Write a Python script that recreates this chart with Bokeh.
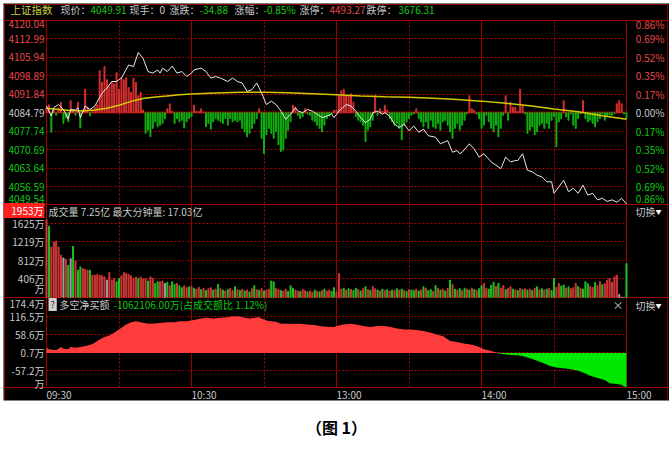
import numpy as np
from bokeh.plotting import figure
from bokeh.models import ColumnDataSource, Range1d, LabelSet, Label, Grid, FixedTicker, Title
from bokeh.embed import file_html
from bokeh.resources import INLINE
from bokeh.core.properties import value

FONT = "Noto Sans CJK SC"

# ------------------------------------------------------------------ data
prev_close = 4084.79
price_ticks = [4120.04, 4112.99, 4105.94, 4098.89, 4091.84, 4084.79,
               4077.74, 4070.69, 4063.64, 4056.59, 4049.54]
pct_labels = ["0.86%", "0.69%", "0.52%", "0.35%", "0.17%", "0.00%",
              "0.17%", "0.35%", "0.52%", "0.69%", "0.86%"]

price_min = [0, 2, 3, 5, 7, 9, 10, 12, 13, 14, 16, 18, 20, 23, 25, 27, 29, 31, 34, 36,
             38, 40, 42, 44, 46, 47, 48, 50, 52, 54, 56, 58, 60, 61, 64, 66, 68, 70, 72, 75,
             77, 79, 81, 83, 85, 87, 89, 91, 93, 95, 97, 99, 101, 103, 104, 106, 108, 110, 112, 114,
             116, 118, 119, 121, 124, 126, 128, 130, 132, 134, 135, 137, 139, 140, 142, 144, 146, 148, 150, 152,
             154, 156, 158, 161, 163, 166, 168, 170, 171, 172, 175, 177, 179, 181, 184, 186, 188, 190, 192, 194,
             195, 197, 199, 201, 203, 205, 207, 209, 210, 212, 214, 216, 218, 220, 222, 224, 226, 228, 230, 232,
             234, 236, 238, 240]
price_val = [4087.3, 4083.5, 4086.7, 4087.9, 4086.0, 4082.3, 4086.0, 4085.8, 4086.7, 4082.9,
             4087.3, 4086.0, 4087.3, 4092.3, 4094.2, 4096.7, 4096.7, 4098.0, 4103.0, 4102.4,
             4107.8, 4105.5, 4100.5, 4099.9, 4101.1, 4099.9, 4101.8, 4100.5, 4102.6, 4099.9,
             4100.5, 4098.6, 4099.9, 4101.1, 4101.8, 4100.5, 4098.0, 4098.6, 4098.0, 4096.7,
             4098.0, 4096.7, 4096.1, 4092.9, 4093.6, 4096.1, 4092.3, 4087.9, 4089.2, 4087.9,
             4085.4, 4082.3, 4084.2, 4086.7, 4085.4, 4084.8, 4086.0, 4085.4, 4084.2, 4082.9,
             4083.5, 4084.2, 4082.9, 4085.4, 4087.9, 4087.3, 4085.4, 4082.9, 4081.0, 4082.3,
             4084.8, 4085.4, 4084.2, 4084.8, 4083.5, 4080.4, 4079.1, 4080.4, 4077.9, 4079.7,
             4077.3, 4078.5, 4076.0, 4075.4, 4072.9, 4074.1, 4069.7, 4070.3, 4069.1, 4069.7,
             4072.9, 4070.9, 4067.8, 4069.1, 4066.0, 4064.7, 4063.4, 4067.8, 4066.0, 4066.5,
             4066.5, 4069.1, 4062.8, 4062.2, 4060.9, 4060.3, 4058.4, 4058.4, 4054.0, 4056.5,
             4059.0, 4054.6, 4055.9, 4054.0, 4057.1, 4053.3, 4054.0, 4051.5, 4052.1, 4050.9,
             4051.5, 4050.6, 4052.1, 4049.91]

avg_min = [0, 5, 10, 15, 20, 25, 30, 35, 40, 45, 50, 55, 60, 70, 80, 90, 100, 110, 120,
           130, 140, 150, 160, 170, 180, 190, 200, 210, 220, 230, 240]
avg_val = [4086.5, 4086.0, 4085.6, 4085.4, 4085.8, 4086.5, 4087.6, 4089.1, 4090.2, 4090.8,
           4091.2, 4091.6, 4091.9, 4092.3, 4092.6, 4092.6, 4092.4, 4092.0, 4091.6, 4091.2,
           4090.9, 4090.7, 4090.3, 4089.8, 4089.2, 4088.4, 4087.4, 4086.2, 4085.1, 4083.6, 4082.3]

# per-minute red/green strength bars (index points from previous close)
flow_val = [
    2.0, 3.0, -7.5, 1.0, -1.0, 2.0, 4.0, -4.1, -2.0, -3.5,
    4.6, 1.0, -1.0, 4.0, -5.8, 1.0, 9.0, 2.0, -1.2, 1.0,
    2.0, 3.0, 16.0, 11.6, 17.6, 12.6, 10.0, 11.6, 11.0, 15.3,
    9.0, 13.4, 12.6, 13.4, 9.6, 7.8, 13.2, 11.6, 6.5, 7.8,
    1.0, -7.9, -6.7, -9.2, -6.0, -3.5, -5.4, -4.8, -4.1, -2.3,
    1.5, 3.4, 0.5, -4.1, -2.3, -3.5, -2.9, -5.8, -3.5, -2.3,
    -1.6, 2.8, 0.5, 0.5, 1.5, 0.3, -5.4, -4.1, -6.3, -3.5,
    -2.3, -2.9, -3.5, -4.1, -2.3, -4.8, -2.3, -3.5, -2.9, -3.5,
    -2.9, -6.0, -7.3, -9.2, -7.9, -6.0, -4.1, -2.3, 1.5, -9.8,
    -15.6, -8.5, -6.0, -7.9, -9.8, -7.3, -12.3, -14.8, -14.2, -9.8,
    -6.7, -3.5, 2.8, 2.1, -1.0, -2.3, -1.6, 1.5, -0.5, -1.0,
    -2.9, -3.5, -4.8, -6.0, -7.3, -4.8, -2.3, -1.3, -0.5, 1.0,
    1.0, 6.5, 8.4, 9.0, 6.5, 6.5, 7.2, 4.0, -1.6, -2.9,
    -3.5, -4.8, -11.0, -6.7, -5.4, -2.9, 6.5, -1.0, 1.5, 0.5,
    2.8, 1.0, -2.3, -3.5, -4.8, -4.1, -6.0, -10.4, -4.8, -3.5,
    -2.3, -1.0, -0.5, 1.5, -2.3, -3.5, -5.4, -3.5, -6.0, -2.9,
    -5.4, -6.0, -4.1, -6.7, -3.5, -2.9, -4.8, -7.3, -9.8, -6.0,
    -4.1, -6.7, -4.8, -2.9, -0.5, 6.5, 1.5, 0.9, -0.5, -2.3,
    -6.0, -4.8, -1.0, -3.5, -6.0, -7.3, -4.8, -9.2, -6.0, -1.0,
    6.5, -2.9, 4.0, 2.1, 2.1, 0.5, 9.0, 2.8, -0.5, -7.9,
    -6.7, -5.4, -8.5, -7.3, -4.8, -4.1, -6.0, -4.1, -6.0, -2.9,
    -1.5, -13.0, -3.5, -2.3, 4.6, -1.6, -2.9, -0.5, -4.8, -6.0,
    -2.3, -0.5, 4.6, -2.3, -3.5, -2.9, -4.1, -5.4, -3.5, -2.3,
    -0.5, -2.9, -1.6, -1.0, -1.0, -0.3, 3.4, 4.6, 3.4, -0.5,
    -2.3]

# per-minute volume (万) and bar direction (r up, g down, n flat)
vol_val = [
    1711, 1566, 1107, 1216, 1238, 1107, 925, 867, 838, 706,
    852, 1122, 794, 597, 670, 634, 619, 597, 597, 488,
    488, 503, 488, 473, 452, 379, 546, 379, 415, 342,
    415, 473, 546, 524, 503, 473, 415, 444, 415, 444,
    401, 415, 357, 452, 415, 306, 342, 342, 357, 306,
    328, 255, 342, 284, 306, 255, 211, 255, 211, 233,
    240, 200, 180, 220, 170, 200, 150, 190, 210, 160,
    180, 284, 190, 160, 140, 170, 200, 150, 233, 170,
    150, 180, 140, 160, 120, 190, 255, 170, 150, 190,
    140, 160, 180, 357, 342, 200, 170, 150, 140, 180,
    130, 255, 200, 160, 140, 130, 170, 150, 120, 140,
    110, 160, 130, 120, 150, 180, 140, 160, 130, 211,
    120, 524, 180, 200, 160, 190, 170, 150, 200, 170,
    140, 190, 233, 170, 150, 240, 190, 160, 140, 180,
    150, 170, 140, 160, 150, 190, 160, 180, 150, 130,
    170, 160, 150, 180, 140, 160, 230, 200, 150, 170,
    130, 255, 200, 160, 180, 140, 200, 379, 280, 180,
    160, 190, 150, 200, 180, 160, 200, 170, 150, 190,
    255, 306, 200, 180, 260, 328, 240, 306, 200, 255,
    170, 200, 233, 180, 160, 150, 200, 170, 190, 160,
    180, 150, 200, 233, 170, 190, 160, 180, 200, 150,
    415, 220, 306, 250, 270, 200, 230, 190, 210, 306,
    240, 200, 180, 342, 300, 240, 220, 328, 260, 342,
    280, 300, 379, 415, 330, 452, 488, 60, 0, 0,
    743]
vol_dir = ("rgrrrrrnrg" "ngrggrrrgr" "rrrrrnrrrg" "grrrrrrrgr" "rrgrrggrrn"
           "grggrggrrg" "rgrrgrgrrg" "rgrgrgrrgr" "grgrgrgrgr" "grrggrrgrr"
           "gggrrgrrgr" "rgrgrgrrgg" "rrrgrgrggr" "grgrgrrgrg" "rgrgrgrgrg"
           "rggrgrgrgg" "rgrgrgrgrg" "rgrgrgrgrg" "grrgggrgrr" "grrgrgrgrg"
           "rgrgrgrgrg" "grrggrgrrr" "grgggrrgrr" "grrrrrrnnn" "g")
vol_ticks = [1625, 1219, 812, 406, 0]
vol_labels = ["1625万", "1219万", "812万", "406万", "万"]
vol_max = 1953
vol_max_label = "1953万"

# 多空净买额 (万)
net_min = [0, 1, 4, 6, 7, 9, 10, 12, 14, 16, 18, 20, 22, 24, 26, 28, 31, 33, 35, 37,
           39, 42, 45, 47, 50, 53, 55, 58, 61, 64, 66, 69, 72, 75, 77, 80, 82, 84, 86, 88,
           89, 91, 93, 95, 97, 100, 102, 105, 108, 111, 113, 116, 119, 120, 123, 126, 128, 131, 134, 137,
           140, 142, 145, 148, 151, 153, 156, 159, 162, 164, 167, 170, 173, 175, 178, 181, 184, 186, 189, 192,
           195, 197, 200, 203, 206, 208, 211, 214, 217, 220, 222, 225, 228, 231, 233, 236, 238, 239, 240]
net_val = [16.8, 11.4, 8.2, 19.0, 13.6, 11.4, 19.0, 16.8, 19.0, 22.0,
           25.3, 32.6, 43.0, 50.6, 55.7, 64.2, 80.0, 90.5, 98.0, 101.0,
           98.0, 92.7, 93.7, 95.0, 98.0, 98.0, 101.0, 101.0, 105.0, 109.5,
           111.7, 109.5, 111.7, 113.9, 117.0, 115.8, 111.7, 109.5, 111.7, 113.9,
           109.5, 103.0, 101.0, 99.0, 92.7, 92.7, 92.7, 92.7, 90.5, 88.6,
           85.4, 83.2, 82.3, 85.4, 90.5, 92.7, 90.5, 85.4, 82.3, 85.4,
           85.4, 83.2, 77.8, 74.7, 74.7, 72.8, 69.6, 64.2, 57.0, 53.8,
           38.0, 34.8, 29.4, 27.2, 22.1, 11.4, 6.3, 1.0, -4.4, -6.3,
           -7.6, -9.5, -17.0, -25.3, -33.9, -41.0, -46.5, -48.7, -51.9, -57.0,
           -62.3, -72.8, -80.3, -86.7, -97.1, -99.3, -101.2, -107.6, -108.0]
net_ticks = [174.4, 116.5, 58.6, 0.7, -57.2, -115.1]
net_labels = ["174.4万", "116.5万", "58.6万", "0.7万", "-57.2万", "万"]

time_ticks = [0, 60, 120, 180, 240]
time_labels = ["09:30", "10:30", "13:00", "14:00", "15:00"]
half_hour_ticks = [30, 90, 150, 210]
hour_ticks = [60, 120, 180]

header_name = "上证指数"
header_items = [("现价：", "4049.91"), ("现手：", "0"), ("涨跌：", "-34.88"),
                ("涨幅：", "-0.85%"), ("涨停：", "4493.27"), ("跌停：", "3676.31")]
vol_title = "成交量 7.25亿 最大分钟量: 17.03亿"
net_title = "多空净买额"
net_value_text = "-1062106.00万(占成交额比 1.12%)"
switch_text = "切换"
caption = "（图 1）"

# ------------------------------------------------------------------ layout / style
BG = "#000000"
RED = "#e84848"
GREEN = "#10c810"
GREY = "#c8c8c8"
DASH = "#b40000"
SOLID = "#990000"

W, H = 669, 450
FL, FT, FR, FB = 3, 3, 669, 403            # black frame box (canvas px)
PL, PR = 46, 626                           # plot area left/right (canvas px)
PRICE_T, PRICE_B, VOL_B, NET_B = 20, 206, 299, 390
PRICE_V = (4120.04, 4049.54)
VOL_V = (2032.0, 0.0)
NET_V = (177.3, -110.6)

k = (PR - PL) / 240.0
x_range = Range1d((FL - PL) / k, (FR - PL) / k)


def scale(px_top, px_bot, v):
    return (v[0] - v[1]) / (px_bot - px_top)


def to_val(px, px_top, px_bot, v):
    return v[0] - (px - px_top) * scale(px_top, px_bot, v)


def make_range(px_top, px_bot, v):
    return Range1d(to_val(FB, px_top, px_bot, v), to_val(FT, px_top, px_bot, v))


p = figure(width=W, height=H, x_range=x_range,
           y_range=make_range(PRICE_T, PRICE_B, PRICE_V),
           x_axis_type=None, y_axis_type=None, toolbar_location=None,
           output_backend="svg", min_border_left=FL, min_border_top=FT,
           min_border_right=W - FR, min_border_bottom=H - FB,
           background_fill_color=BG, border_fill_color="white",
           outline_line_color=None)
p.extra_y_ranges = {"vol": make_range(PRICE_B, VOL_B, VOL_V),
                    "net": make_range(VOL_B, NET_B, NET_V)}

plot_x = (0, 240)
v_bottom = to_val(NET_B, PRICE_T, PRICE_B, PRICE_V)


def hgrid(ticks, rng="default", dash=True, color=DASH, width=1, cross=plot_x):
    g = Grid(dimension=1, ticker=FixedTicker(ticks=ticks), y_range_name=rng,
             grid_line_color=color, grid_line_width=width)
    if dash:
        g.grid_line_dash = "2 2"
    if cross is not None:
        g.cross_bounds = cross
    p.add_layout(g)


def vgrid(ticks, dash=True, color=DASH, width=1, cross=(v_bottom, PRICE_V[0])):
    g = Grid(dimension=0, ticker=FixedTicker(ticks=ticks),
             grid_line_color=color, grid_line_width=width, cross_bounds=cross)
    if dash:
        g.grid_line_dash = "2 2"
    p.add_layout(g)


# dashed inner grids
hgrid([t for t in price_ticks[1:-1] if t != prev_close])
hgrid(vol_ticks[:-1], "vol")
hgrid(net_ticks[1:-1], "net")
vgrid(half_hour_ticks)
vgrid(hour_ticks, dash=False, color=SOLID)
# previous close line
hgrid([prev_close], dash=False, color="#8b0000", width=2)
# panel borders
hgrid(list(PRICE_V), dash=False, color="#a00000", cross=None)
hgrid([VOL_V[1]], "vol", dash=False, color="#a00000", cross=None)
hgrid([NET_V[1]], "net", dash=False, color="#a00000", cross=None)
vgrid([0, 240], dash=False, color="#a00000")
# outer frame
vgrid([(4 - PL) / k, (FR - 2 - PL) / k], dash=False, color="#800000",
      cross=(to_val(FB - 1, PRICE_T, PRICE_B, PRICE_V), to_val(FT, PRICE_T, PRICE_B, PRICE_V)))
hgrid([to_val(FT + 1, PRICE_T, PRICE_B, PRICE_V)], dash=False, color="#800000", cross=None)

# ---------------- price panel glyphs
mins = list(range(len(flow_val)))
fv = np.array(flow_val)
flow_src = ColumnDataSource(dict(
    x=mins, top=prev_close + fv, bottom=[prev_close] * len(mins),
    color=["#d83030" if v > 0 else "#10b010" for v in fv]))
p.vbar(x="x", width=0.4, top="top", bottom="bottom", color="color", source=flow_src)
p.line(avg_min, avg_val, color="#d2c800", line_width=1.5)
p.line(price_min, price_val, color="#e8e8e8", line_width=1)

# ---------------- volume glyphs
cmap = {"r": "#d03838", "g": "#20c020", "n": "#a0a0a0"}
vol_src = ColumnDataSource(dict(x=list(range(len(vol_val))), top=vol_val,
                                color=[cmap[c] for c in vol_dir]))
p.vbar(x="x", width=0.42, top="top", bottom=0, color="color", source=vol_src,
       y_range_name="vol")

# ---------------- net buy glyphs
nv = np.array(net_val)
p.varea(x=net_min, y1=0, y2=np.maximum(nv, 0), fill_color="#ff3c3c", y_range_name="net")
p.varea(x=net_min, y1=0, y2=np.minimum(nv, 0), fill_color="#00e800", y_range_name="net")


# ---------------- texts
def sx(px):
    return px - FL


def sy(py):
    return FB - py


def label(x, y, text, color, size="10px", align="left", **kw):
    p.add_layout(Label(x=sx(x), y=sy(y), x_units="screen", y_units="screen", text=text,
                       text_color=color, text_font=FONT, text_font_size=size,
                       text_align=align, text_baseline="middle", **kw))


def tick_labels(ticks, texts, colors, x, align, rng, offs):
    src = ColumnDataSource(dict(y=ticks, text=texts, color=colors, off=offs))
    p.add_layout(LabelSet(x=sx(x), y="y", x_units="screen", text="text", source=src,
                          y_range_name=rng, text_color="color", text_font=value(FONT),
                          text_font_size="10px", text_align=align,
                          text_baseline="middle", y_offset="off"))


def edge_offsets(n, top_off, bot_off):
    off = [0.0] * n
    off[0] = top_off
    off[-1] = bot_off
    return off


n = len(price_ticks)
pcol = [RED] * 5 + [GREY] + [GREEN] * 5
tick_labels(price_ticks, [f"{t:.2f}" for t in price_ticks], pcol, 44, "right", "default",
            edge_offsets(n, -4, 6))
tick_labels(price_ticks, pct_labels, pcol, 664, "right", "default", edge_offsets(n, -4, 6))
tick_labels(vol_ticks, vol_labels, [GREY] * len(vol_ticks), 44, "right", "vol",
            [0, 0, 0, 0, 9])
tick_labels(net_ticks, net_labels, [GREY] * len(net_ticks), 44, "right", "net",
            edge_offsets(len(net_ticks), -5, 6))

p.add_layout(Label(x=sx(44), y=vol_max, x_units="screen", y_range_name="vol",
                   text=vol_max_label, text_color="white", text_font=FONT,
                   text_font_size="10px", text_align="right", text_baseline="middle",
                   y_offset=-2, background_fill_color="#ff2020",
                   padding=dict(left=10, right=1, top=0, bottom=0)))

tsrc = ColumnDataSource(dict(x=time_ticks, text=time_labels))
p.add_layout(LabelSet(x="x", y=sy(397), y_units="screen", text="text", source=tsrc,
                      text_color=GREY, text_font=value(FONT), text_font_size="10px",
                      text_align="left", text_baseline="middle"))

# header
label(10, 12, header_name, "#cccc44", size="10.5px")
hx = [60, 129, 169, 234, 299, 366]
vx = [90, 159, 199, 263, 329, 398]
for (lab, val), x0, x1 in zip(header_items, hx, vx):
    label(x0, 12, lab, GREY)
    vcol = RED if lab.startswith("涨停") else (GREY if val == "0" else "#18c818")
    label(x1, 12, val, vcol)

# panel titles
label(48, 214, vol_title, GREY)
label(635, 214, switch_text, GREY)
label(655, 214, "▼", "white", size="6px")
label(48, 307, "?", "#202020", size="9px", background_fill_color="#d0d0d0",
      padding=dict(left=2, right=2, top=0, bottom=0))
label(59, 307, net_title, GREY)
label(113, 307, net_value_text, "#10c810")
label(612, 307, "×", GREY, size="11px")
label(635, 308, switch_text, GREY)
label(655, 308, "▼", "white", size="6px")

# caption
p.add_layout(Title(text=caption, align="center", text_font=FONT, text_font_size="16px",
                   text_font_style="bold", text_color="black", standoff=24, offset=-5),
             "below")

open("out.html", "w").write(file_html(p, INLINE))
